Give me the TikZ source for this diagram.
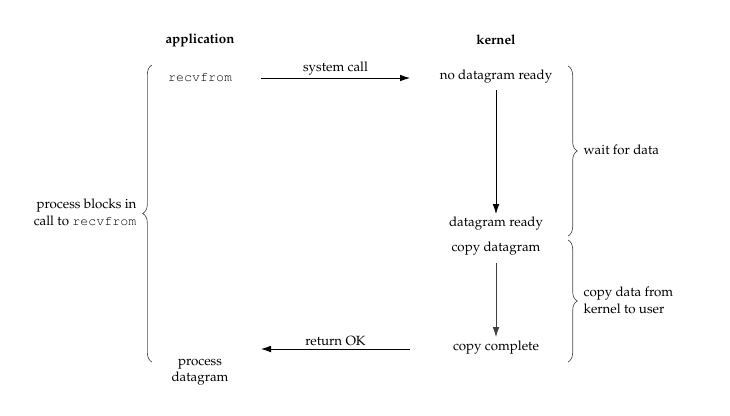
\documentclass[tikz,border=0pt]{standalone}
\usepackage[T1]{fontenc}
\usepackage{mathpazo}
\renewcommand\ttdefault{pcr}
\usetikzlibrary{arrows.meta,decorations.pathreplacing}
\tikzset{
  lbl/.style={inner sep=1pt, font=\fontsize{10}{12.5}\selectfont},
  arr/.style={line width=0.6pt, -{Latex[length=7.5pt,width=5pt]}},
  brc/.style={line width=0.5pt, black!70, decorate, decoration={brace, amplitude=7pt}}
}
\begin{document}
\begin{tikzpicture}[x=0.75pt,y=-0.75pt]
\useasboundingbox (0,0) rectangle (730,415);
% headings
\node[lbl, font=\bfseries] (app) at (200,40) {application};
\node[lbl, font=\bfseries] (ker) at (496,40) {kernel};
% application column
\node[lbl] (recv) at (200,77) {\ttfamily recvfrom};
\node[lbl, align=center] (proc) at (200,372) {process\\datagram};
% kernel column
\node[lbl] (nodr) at (496,77) {no datagram ready};
\node[lbl] (dr) at (496,224) {datagram ready};
\node[lbl] (cpd) at (496,249) {copy datagram};
\node[lbl] (cpc) at (496,348) {copy complete};
% arrow endpoints
\coordinate (sc1) at (261,78);
\coordinate (sc2) at (410,78);
\coordinate (ro1) at (410,349);
\coordinate (ro2) at (261,349);
\coordinate (k1a) at (496,90);
\coordinate (k1b) at (496,214);
\coordinate (k2a) at (496,263);
\coordinate (k2b) at (496,337);
\draw[arr] (sc1) -- node[lbl, above=1pt] (sclbl) {system call} (sc2);
\draw[arr] (ro1) -- node[lbl, above=1pt] (rolbl) {return OK} (ro2);
\draw[arr] (k1a) -- (k1b);
\draw[arr, black!75] (k2a) -- (k2b);
% braces
\coordinate (lb1) at (152,362);
\coordinate (lb2) at (152,65);
\draw[brc] (lb1) -- (lb2);
\node[lbl, align=right, anchor=east] (blk) at (138,212) {process blocks in\\call to \texttt{recvfrom}};
\coordinate (rb1a) at (568,66);
\coordinate (rb1b) at (568,236);
\draw[brc] (rb1a) -- (rb1b);
\node[lbl, anchor=west] (wait) at (582,150) {wait for data};
\coordinate (rb2a) at (568,240);
\coordinate (rb2b) at (568,362);
\draw[brc] (rb2a) -- (rb2b);
\node[lbl, align=left, anchor=west] (copy) at (582,300) {copy data from\\kernel to user};
\end{tikzpicture}
\end{document}
